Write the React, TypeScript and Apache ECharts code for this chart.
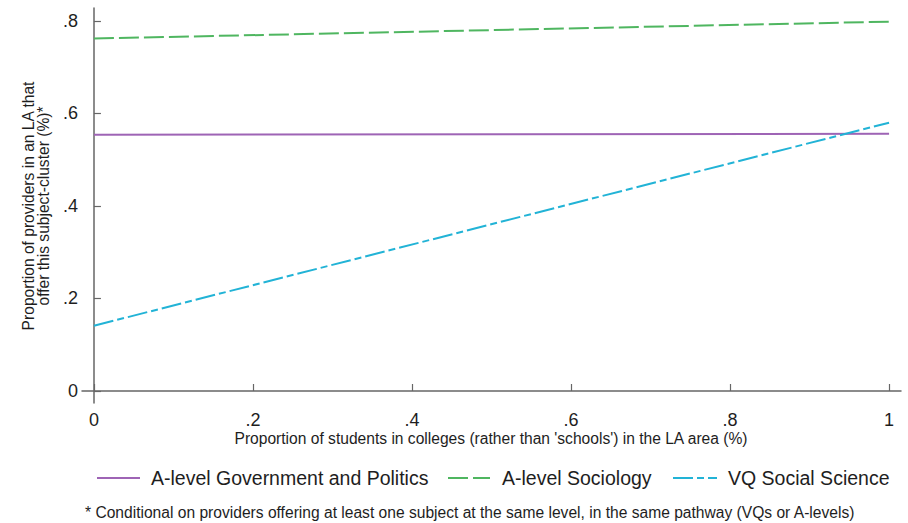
import React, { useEffect, useRef } from "react";
import * as echarts from "echarts";

// Predicted proportions at the two ends of the college-share range
const xValues = [0, 1];
const seriesNames = [
  "A-level Government and Politics",
  "A-level Sociology",
  "VQ Social Science",
];
const govPolitics = [0.554, 0.556];
const sociology = [0.762, 0.7985];
const vqSocialScience = [0.141, 0.58];

const xTicks = [0, 0.2, 0.4, 0.6, 0.8, 1];
const yTicks = [0, 0.2, 0.4, 0.6, 0.8];

const yTitle = "Proportion of providers in an LA that\noffer this subject-cluster (%)*";
const xTitle = "Proportion of students in colleges (rather than 'schools') in the LA area (%)";
const footnote =
  "* Conditional on providers offering at least one subject at the same level, in the same pathway (VQs or A-levels)";

const COLORS = ["#9e64b5", "#4fb660", "#22b3d6"];
const DASHES: (string | number[])[] = ["solid", [20, 5], [20, 4, 7, 4]];
const FONT = "'Liberation Sans', Arial, sans-serif";
const AXIS_COLOR = "#666666";
const TEXT_COLOR = "#1e1e1e";
const SMALL_FONT = 15.6;

const fmtTick = (v: number) => {
  if (Math.abs(v) < 1e-9) return "0";
  if (Math.abs(v - 1) < 1e-9) return "1";
  return v.toFixed(1).replace(/^0/, "");
};

export default function App() {
  const ref = useRef<HTMLDivElement>(null);

  useEffect(() => {
    if (!ref.current) return;
    const chart = echarts.init(ref.current, undefined, { renderer: "svg" });

    const allSeries = [govPolitics, sociology, vqSocialScience];

    // Legend drawn as line samples + labels beneath the axis title
    const legendLayout = [
      { lineX: 97, lineW: 43, textX: 151 },
      { lineX: 448, lineW: 42, textX: 502 },
      { lineX: 673, lineW: 44, textX: 728 },
    ];
    const legendY = 478;
    const legendGraphics: any[] = [];
    seriesNames.forEach((name, i) => {
      const l = legendLayout[i];
      legendGraphics.push({
        type: "line",
        shape: { x1: l.lineX, y1: legendY, x2: l.lineX + l.lineW, y2: legendY },
        style: { stroke: COLORS[i], lineWidth: 2, lineDash: DASHES[i] === "solid" ? null : DASHES[i] },
      });
      legendGraphics.push({
        type: "text",
        x: l.textX,
        y: legendY,
        style: {
          text: name,
          fontSize: 19.5,
          fontFamily: FONT,
          fill: TEXT_COLOR,
          align: "left",
          verticalAlign: "middle",
        },
      });
    });

    chart.setOption({
      animation: false,
      backgroundColor: "#ffffff",
      grid: { left: 82, right: 7, top: 8, bottom: 120, containLabel: false },
      xAxis: {
        type: "value",
        min: -0.015,
        max: 1.015,
        axisLine: { show: true, lineStyle: { color: AXIS_COLOR, width: 1.5 } },
        axisTick: {
          show: true,
          inside: true,
          length: 7,
          customValues: xTicks,
          lineStyle: { color: AXIS_COLOR, width: 1.2 },
        },
        axisLabel: {
          customValues: xTicks,
          formatter: (v: number) => fmtTick(v),
          fontSize: 18,
          fontFamily: FONT,
          color: TEXT_COLOR,
          margin: 8,
        },
        splitLine: { show: false },
      },
      yAxis: {
        type: "value",
        min: -0.026,
        max: 0.828,
        axisLine: { show: true, lineStyle: { color: AXIS_COLOR, width: 1.5 } },
        axisTick: {
          show: true,
          inside: true,
          length: 7,
          customValues: yTicks,
          lineStyle: { color: AXIS_COLOR, width: 1.2 },
        },
        axisLabel: {
          customValues: yTicks,
          formatter: (v: number) => fmtTick(v),
          fontSize: 18,
          fontFamily: FONT,
          color: TEXT_COLOR,
          margin: 4,
        },
        splitLine: { show: false },
      },
      series: seriesNames.map((name, i) => ({
        name,
        type: "line",
        showSymbol: false,
        symbol: "none",
        data: xValues.map((x, j) => [x, allSeries[i][j]]),
        lineStyle: { color: COLORS[i], width: 2, type: DASHES[i] },
        itemStyle: { color: COLORS[i] },
      })),
      graphic: [
        {
          type: "text",
          x: 36,
          y: 206,
          rotation: Math.PI / 2,
          style: {
            text: yTitle,
            fontSize: SMALL_FONT,
            lineHeight: 15.5,
            fontFamily: FONT,
            fill: TEXT_COLOR,
            align: "center",
            verticalAlign: "middle",
          },
        },
        {
          type: "text",
          x: 491,
          y: 438,
          style: {
            text: xTitle,
            fontSize: SMALL_FONT,
            fontFamily: FONT,
            fill: TEXT_COLOR,
            align: "center",
            verticalAlign: "middle",
          },
        },
        ...legendGraphics,
        {
          type: "text",
          x: 85,
          y: 512,
          style: {
            text: footnote,
            fontSize: SMALL_FONT,
            fontFamily: FONT,
            fill: TEXT_COLOR,
            align: "left",
            verticalAlign: "middle",
          },
        },
      ],
    });

    return () => chart.dispose();
  }, []);

  return (
    <div
      ref={ref}
      style={{ position: "fixed", left: 0, top: 0, width: 908, height: 523 }}
    />
  );
}
